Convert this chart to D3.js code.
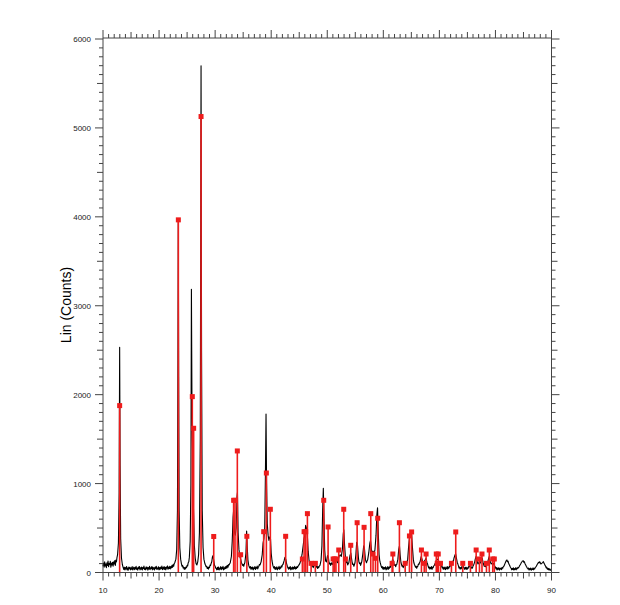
<!DOCTYPE html>
<html><head><meta charset="utf-8">
<script src="https://cdn.jsdelivr.net/npm/d3@7"></script>
<style>body{margin:0;background:#fff}svg{display:block}text{font-family:"Liberation Sans",Arial,sans-serif}</style>
</head><body><div id="chart"></div>
<script>
// Measured diffraction scan: [2theta, counts]
const scanPattern = [
[10.0,70],[10.1,105],[10.2,60],[10.3,120],[10.4,75],[10.5,95],[10.6,55],[10.7,110],[10.8,80],[10.9,130],[11.0,65],[11.1,100],[11.2,90],[11.3,125],[11.4,60],[11.5,105],[11.6,85],[11.7,115],[11.8,70],[11.9,120],[12.0,95],[12.1,135],[12.2,80],[12.3,140],[12.4,120],[12.5,170],
[12.6,200],[12.75,330],[12.88,900],[12.97,2534],[13.05,1200],[13.15,380],[13.3,160],[13.45,90],
[13.6,55],[13.7,35],[13.8,60],[13.9,28],[14.0,55],[14.1,40],[14.2,68],[14.3,30],[14.4,50],[14.5,25],[14.6,62],[14.7,42],[14.8,58],[14.9,30],[15.0,52],[15.1,36],[15.2,66],[15.3,28],[15.4,48],[15.5,60],[15.6,32],[15.7,55],[15.8,40],[15.9,70],[16.0,35],[16.1,50],[16.2,26],[16.3,60],[16.4,45],[16.5,68],[16.6,30],[16.7,54],[16.8,38],[16.9,62],[17.0,28],[17.1,56],[17.2,44],[17.3,72],[17.4,34],[17.5,50],[17.6,30],[17.7,64],[17.8,42],[17.9,58],[18.0,26],[18.1,55],[18.2,40],[18.3,70],[18.4,32],[18.5,52],[18.6,45],[18.7,66],[18.8,30],[18.9,60],[19.0,38],[19.1,54],[19.2,28],[19.3,62],[19.4,46],[19.5,70],[19.6,34],[19.7,50],[19.8,40],[19.9,65],[20.0,30],[20.1,56],[20.2,36],[20.3,60],[20.4,44],[20.5,72],[20.6,32],[20.7,55],[20.8,40],[20.9,68],[21.0,35],[21.1,58],[21.2,30],[21.3,62],[21.4,48],[21.5,74],[21.6,36],[21.7,60],[21.8,45],[21.9,70],[22.0,40],[22.1,66],[22.2,52],[22.3,80],[22.4,58],[22.5,90],[22.6,70],[22.7,100],[22.8,110],
[23.0,150],[23.15,260],[23.28,700],[23.37,2400],[23.43,3950],[23.5,2200],[23.58,700],[23.7,280],[23.85,150],[24.0,95],[24.1,70],[24.2,80],[24.3,50],[24.4,60],[24.5,35],[24.6,55],[24.7,40],[24.8,62],[24.9,55],[25.0,80],[25.1,75],[25.2,110],[25.3,120],[25.4,170],[25.55,350],[25.68,1000],[25.77,3186],[25.86,2000],[25.95,1500],[26.05,900],[26.17,650],[26.3,300],[26.45,160],[26.6,100],[26.75,85],[26.9,120],[27.05,200],[27.2,450],[27.35,1500],[27.49,5698],[27.58,2500],[27.7,700],[27.85,280],[28.0,150],[28.1,120],[28.2,95],[28.3,80],[28.4,65],[28.5,70],[28.6,45],[28.7,58],[28.8,38],[28.9,62],[29.0,55],[29.1,85],[29.2,80],[29.3,105],[29.4,120],[29.52,175],[29.62,190],[29.75,140],[29.9,80],[30.0,70],[30.1,50],
[30.2,45],[30.3,30],[30.4,58],[30.5,35],[30.6,62],[30.7,28],[30.8,50],[30.9,40],[31.0,66],[31.1,32],[31.2,55],[31.3,42],[31.4,70],[31.5,30],[31.6,52],[31.7,38],[31.8,64],[31.9,45],[32.0,72],[32.1,50],[32.2,80],[32.3,60],[32.4,90],[32.5,85],[32.6,100],
[32.7,110],[32.9,180],[33.05,350],[33.2,620],[33.3,700],[33.45,450],[33.6,420],[33.75,500],[33.9,850],[33.98,900],[34.1,450],[34.25,260],[34.4,180],[34.55,150],[34.7,110],[34.8,95],[34.9,80],[35.0,90],[35.1,70],[35.2,95],[35.3,110],[35.5,220],[35.62,467],[35.72,300],[35.85,140],
[36.0,80],[36.1,60],[36.2,50],[36.3,66],[36.4,36],[36.5,58],[36.6,40],[36.7,62],[36.8,30],[36.9,52],[37.0,44],[37.1,68],[37.2,34],[37.3,56],[37.4,48],[37.5,72],[37.6,40],[37.7,60],[37.8,70],[37.9,90],
[38.0,85],[38.2,120],[38.4,200],[38.55,330],[38.7,380],[38.85,500],[38.97,1100],[39.08,1783],[39.18,1000],[39.3,550],[39.45,420],[39.6,360],[39.75,400],[39.88,380],[40.0,220],[40.15,130],
[40.3,80],[40.4,60],[40.5,48],[40.6,66],[40.7,34],[40.8,55],[40.9,40],[41.0,64],[41.1,30],[41.2,52],[41.3,44],[41.4,70],[41.5,36],[41.6,58],[41.7,50],[41.8,74],[41.9,62],[42.0,85],
[42.1,90],[42.3,130],[42.45,170],[42.6,150],[42.75,100],
[42.9,65],[43.0,50],[43.1,38],[43.2,60],[43.3,42],[43.4,66],[43.5,30],[43.6,54],[43.7,40],[43.8,62],[43.9,34],[44.0,58],[44.1,46],[44.2,70],[44.3,38],[44.4,56],[44.5,44],[44.6,68],[44.7,55],[44.8,72],[44.9,80],
[45.1,100],[45.3,140],[45.5,200],[45.7,300],[45.85,380],[46.0,420],[46.15,530],[46.3,500],[46.45,420],[46.6,240],[46.75,140],[46.9,95],[47.0,120],[47.1,110],[47.2,90],[47.3,70],[47.4,80],[47.5,55],[47.6,70],[47.7,80],[47.8,105],[47.9,95],[48.0,75],[48.1,60],[48.2,70],[48.3,45],[48.4,65],[48.5,58],[48.6,75],[48.7,80],[48.9,140],[49.05,300],[49.18,700],[49.3,947],[49.42,600],[49.55,250],[49.7,130],[49.85,120],[50.05,190],[50.2,170],[50.3,120],[50.4,95],[50.5,105],[50.6,80],[50.7,100],[50.8,110],[50.9,90],[51.0,95],[51.1,120],[51.2,130],[51.3,105],[51.45,110],[51.6,150],[51.7,140],[51.8,110],[51.9,120],[52.1,180],[52.3,200],[52.5,180],[52.7,260],[52.85,430],[52.95,480],[53.1,300],[53.25,160],[53.35,130],[53.45,110],[53.55,120],[53.65,85],[53.75,100],[53.85,110],[54.05,190],[54.2,220],[54.35,150],[54.45,110],[54.55,90],[54.65,95],[54.75,70],[54.85,90],[54.95,110],[55.1,200],[55.25,340],[55.38,320],[55.55,170],[55.65,120],[55.75,100],[55.85,110],[55.95,80],[56.05,100],[56.15,120],[56.35,210],[56.5,300],[56.62,280],[56.8,150],[56.9,125],[57.0,110],[57.1,130],[57.2,140],[57.4,220],[57.6,330],[57.72,360],[57.85,280],[58.0,200],[58.15,240],[58.3,220],[58.5,250],[58.7,420],[58.85,650],[58.97,729],[59.1,450],[59.25,200],[59.35,140],[59.45,110],
[59.6,75],[59.7,55],[59.8,68],[59.9,40],[60.0,60],[60.1,35],[60.2,56],[60.3,42],[60.4,64],[60.5,30],[60.6,52],[60.7,40],[60.8,66],[60.9,36],[61.0,58],[61.1,48],[61.2,72],[61.3,60],[61.4,85],
[61.5,95],[61.65,150],[61.8,130],[61.9,100],[62.0,80],[62.1,90],[62.2,65],[62.3,85],[62.4,90],[62.6,150],[62.75,260],[62.88,300],[63.0,200],[63.15,110],[63.25,90],[63.35,70],[63.45,80],[63.55,55],[63.65,70],[63.75,80],[63.85,100],[63.95,110],[64.05,95],[64.15,90],[64.25,120],[64.35,150],[64.5,280],[64.65,380],[64.8,430],[64.92,459],[65.05,420],[65.2,280],[65.35,150],[65.45,110],[65.55,90],[65.65,75],[65.75,60],[65.85,70],[65.95,48],[66.05,65],[66.15,70],[66.25,95],[66.35,90],[66.45,110],[66.55,120],[66.75,180],[66.9,150],[67.05,100],[67.15,115],[67.25,120],[67.45,140],[67.62,160],[67.8,110],[67.9,95],
[68.0,70],[68.1,50],[68.2,62],[68.3,38],[68.4,58],[68.5,42],[68.6,66],[68.7,36],[68.8,60],[68.9,55],[69.0,75],
[69.1,80],[69.2,95],[69.3,110],[69.4,130],[69.6,150],[69.8,140],[70.0,100],[70.1,115],[70.2,110],[70.3,90],
[70.4,70],[70.5,52],[70.6,64],[70.7,36],[70.8,55],[70.9,40],[71.0,62],[71.1,32],[71.2,54],[71.3,44],[71.4,68],[71.5,38],[71.6,58],[71.7,50],[71.8,74],[71.9,66],[72.0,90],
[72.1,85],[72.2,110],[72.3,100],[72.4,130],[72.5,125],[72.6,160],[72.75,190],[72.9,210],[73.05,160],[73.2,110],[73.3,95],
[73.4,75],[73.5,50],[73.6,62],[73.7,38],[73.8,55],[73.9,42],[74.0,66],[74.1,70],[74.2,80],[74.3,58],[74.4,50],[74.5,36],[74.6,60],[74.7,40],[74.8,58],[74.9,34],[75.0,52],[75.1,44],[75.2,66],[75.3,60],[75.4,78],[75.5,70],[75.6,72],[75.7,48],[75.8,58],[75.9,50],[76.0,72],
[76.1,85],[76.2,100],[76.3,120],[76.4,150],[76.55,180],[76.7,140],[76.8,110],[76.9,95],[77.0,105],[77.1,120],[77.2,100],[77.3,110],[77.4,125],[77.5,140],[77.65,160],[77.8,110],[77.9,90],[78.0,70],[78.1,80],[78.2,65],[78.3,85],[78.4,95],[78.5,90],[78.6,110],[78.75,150],[78.9,180],[79.05,130],[79.15,110],[79.25,95],[79.35,105],[79.5,110],[79.6,95],[79.7,100],[79.8,80],
[79.9,70],[80.0,58],[80.1,40],[80.2,55],[80.3,28],[80.4,50],[80.5,36],[80.6,54],[80.7,26],[80.8,46],[80.9,38],[81.0,52],[81.1,32],[81.2,55],[81.3,48],[81.4,66],[81.5,70],
[81.6,85],[81.7,100],[81.8,115],[81.9,130],[82.05,141],[82.15,120],[82.25,128],[82.4,95],[82.5,85],
[82.6,70],[82.7,56],[82.8,48],[82.9,30],[83.0,46],[83.1,34],[83.2,52],[83.3,26],[83.4,44],[83.5,36],[83.6,54],[83.7,30],[83.8,50],[83.9,42],[84.0,58],[84.1,52],[84.2,62],
[84.3,75],[84.4,85],[84.5,95],[84.6,110],[84.7,118],[84.8,128],[84.95,133],[85.05,115],[85.15,122],[85.3,95],[85.4,85],
[85.5,70],[85.6,60],[85.7,48],[85.8,40],[85.9,50],[86.0,28],[86.1,44],[86.2,32],[86.3,50],[86.4,26],[86.5,42],[86.6,34],[86.7,52],[86.8,30],[86.9,46],[87.0,40],[87.1,58],[87.2,62],
[87.3,70],[87.4,85],[87.5,95],[87.6,105],[87.7,115],[87.8,108],[87.9,122],[88.0,110],[88.1,95],[88.2,100],[88.3,105],[88.45,115],[88.55,122],[88.65,105],[88.75,95],[88.85,80],
[88.95,70],[89.05,52],[89.15,60],[89.25,38],[89.35,48],[89.45,30],[89.55,44],[89.65,28],[89.75,38],[89.85,24],[90.0,32]
];
// Reference pattern sticks
const stickAngles = [12.97,23.44,25.93,26.17,27.49,29.75,33.30,33.55,33.96,34.55,35.66,38.66,39.14,39.85,42.58,45.56,45.87,46.16,46.46,47.12,47.88,49.37,50.15,51.05,51.30,51.55,52.05,52.94,53.24,54.19,55.33,56.57,57.76,58.17,58.60,59.00,61.57,61.70,62.87,63.90,64.66,65.05,66.80,67.30,67.63,69.45,69.62,69.80,70.20,72.15,72.92,74.17,75.54,76.56,77.15,77.60,78.40,78.90,79.52,79.80];
const stickCounts = [1877,3966,1978,1622,5128,405,812,812,1367,200,407,459,1119,711,407,152,459,459,662,103,103,812,512,152,152,152,253,711,152,306,560,508,662,208,160,610,103,208,560,103,411,456,253,103,208,208,103,208,103,103,456,103,103,253,152,208,103,253,152,152];
const xTickValues = [10,20,30,40,50,60,70,80,90];
const yTickValues = [0,1000,2000,3000,4000,5000,6000];
const yAxisTitle = "Lin (Counts)";

const W = 620, H = 605;
const svg = d3.select("#chart").append("svg").attr("width", W).attr("height", H);
const x = d3.scaleLinear().domain([10, 90]).range([103, 551.5]);
const y = d3.scaleLinear().domain([0, 6000]).range([572.5, 39]);
const axisColor = "#444";

// scan line
const line = d3.line().x(d => x(d[0])).y(d => y(d[1]));
svg.append("path").datum(scanPattern).attr("d", line)
  .attr("fill", "none").attr("stroke", "#000").attr("stroke-width", 1.1)
  .attr("stroke-linejoin", "round");

// sticks
const sticks = stickAngles.map((a, i) => ({a, c: stickCounts[i]}));
const red = "#ee1c1c";
svg.append("g").selectAll("line").data(sticks).join("line")
  .attr("x1", d => x(d.a)).attr("x2", d => x(d.a))
  .attr("y1", y(0)).attr("y2", d => y(d.c))
  .attr("stroke", red).attr("stroke-width", 1.6);
svg.append("g").selectAll("rect").data(sticks).join("rect")
  .attr("x", d => x(d.a) - 2.5).attr("y", d => y(d.c) - 2.5)
  .attr("width", 5).attr("height", 5).attr("fill", red);

// axes with minor ticks
const xMinor = d3.range(10, 91, 1);
const yMinor = d3.range(0, 6001, 100);
function tickLen(v, major, mid, L) { return v % major === 0 ? L[0] : (v % mid === 0 ? L[1] : L[2]); }

const gA = svg.append("g").attr("stroke", axisColor).attr("stroke-width", 1);
gA.append("line").attr("x1", x(10)).attr("x2", x(90)).attr("y1", y(0)).attr("y2", y(0));
gA.append("line").attr("x1", x(10)).attr("x2", x(90)).attr("y1", 38).attr("y2", 38);
gA.append("line").attr("x1", x(10)).attr("x2", x(10)).attr("y1", 38).attr("y2", y(0));
gA.append("line").attr("x1", x(90)).attr("x2", x(90)).attr("y1", 38).attr("y2", y(0));
xMinor.forEach(v => {
  const L = tickLen(v, 10, 5, [8, 6, 4]);
  gA.append("line").attr("x1", x(v)).attr("x2", x(v)).attr("y1", y(0)).attr("y2", y(0) + L);
  gA.append("line").attr("x1", x(v)).attr("x2", x(v)).attr("y1", 38).attr("y2", 38 - L);
});
yMinor.forEach(v => {
  const L = tickLen(v, 1000, 500, [8, 6, 4]);
  gA.append("line").attr("x1", x(10)).attr("x2", x(10) - L).attr("y1", y(v)).attr("y2", y(v));
  gA.append("line").attr("x1", x(90)).attr("x2", x(90) + L).attr("y1", y(v)).attr("y2", y(v));
});
svg.append("g").selectAll("text").data(xTickValues).join("text")
  .attr("x", d => x(d)).attr("y", y(0) + 20).attr("text-anchor", "middle")
  .attr("font-size", 8).attr("fill", "#222").text(d => d);
svg.append("g").selectAll("text").data(yTickValues).join("text")
  .attr("x", x(10) - 12).attr("y", d => y(d) + 3).attr("text-anchor", "end")
  .attr("font-size", 8).attr("fill", "#222").text(d => d);
svg.append("text").attr("transform", "translate(71,305) rotate(-90)")
  .attr("text-anchor", "middle").attr("font-size", 14).attr("fill", "#000").text(yAxisTitle);
</script></body></html>
